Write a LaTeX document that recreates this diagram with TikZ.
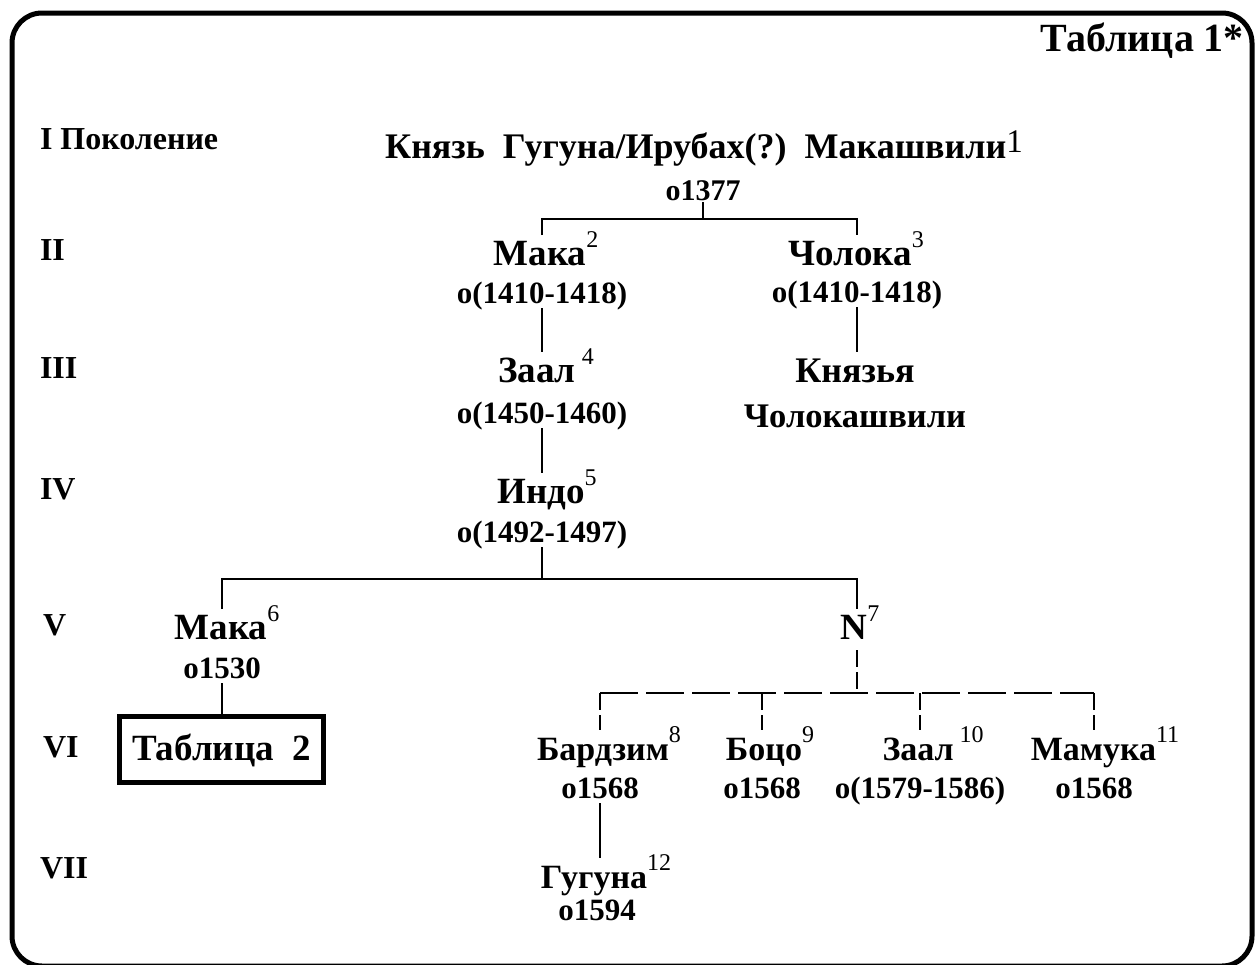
\documentclass[tikz,border=0pt]{standalone}
\usepackage{fontspec}
\setmainfont{Liberation Serif}
\newcommand\fsz[1]{\fontsize{#1}{#1}\selectfont}
\newcommand\sx[1]{\raisebox{18pt}{\mdseries\fsz{24}#1}}
\tikzset{
 gen/.style={anchor=base west, font=\bfseries\fsz{32}},
 pname/.style={anchor=base, font=\bfseries\fsz{37}, text height=30pt, text depth=0pt},
 vname/.style={anchor=base, font=\bfseries\fsz{34}, text height=30pt, text depth=0pt},
 pdate/.style={anchor=base, font=\bfseries\fsz{31}, text height=22pt, text depth=5pt},
 conn/.style={line width=2pt},
 dashh/.style={line width=2.2pt, dash pattern=on 38pt off 8pt},
 dashv/.style={line width=2.2pt, dash pattern=on 17pt off 5pt},
}
\begin{document}
\begin{tikzpicture}[x=1pt,y=-1pt, every node/.style={inner sep=0pt, outer sep=0pt}]
\useasboundingbox (0,0) rectangle (1255,964);
\clip (0,0) rectangle (1255,964);
\draw[line width=5pt, rounded corners=30pt] (12,13) rectangle (1252,966);

\node[anchor=base east, font=\bfseries\fsz{40}] (title) at (1244,51) {Таблица 1*};
\node[gen] (g1) at (40,149) {I Поколение};
\node[gen] (g2) at (40,260) {II};
\node[gen] (g3) at (40,378) {III};
\node[gen] (g4) at (40,499) {IV};
\node[gen] (g5) at (43,635) {V};
\node[gen] (g6) at (43,757) {VI};
\node[gen] (g7) at (40,878) {VII};

\node[anchor=base, font=\bfseries\fsz{36}] (root) at (704,158) {Князь~~Гугуна/Ирубах(?)~~Макашвили\raisebox{6pt}{\mdseries\fsz{33}1}};
\node[pdate, font=\bfseries\fsz{30}, text depth=2pt] (d1377) at (703,200) {o1377};

\node[pname] (maka2) at (546,265) {Мака\sx{2}};
\node[pdate] (d2a) at (542,303) {o(1410-1418)};
\node[pname] (chol3) at (856,265) {Чолока\sx{3}};
\node[pdate] (d2b) at (857,302) {o(1410-1418)};
\node[pname] (zaal4) at (546,382) {Заал\,\sx{4}};
\node[pdate] (d3) at (542,423) {o(1450-1460)};
\node[pname, font=\bfseries\fsz{36}] (kn) at (855,382) {Князья};
\node[anchor=base, font=\bfseries\fsz{34.5}] (chk) at (855,427) {Чолокашвили};
\node[pname] (indo5) at (547,503) {Индо\sx{5}};
\node[pdate] (d4) at (542,542) {o(1492-1497)};
\node[pname] (maka6) at (227,639) {Мака\sx{6}};
\node[pdate] (d5a) at (222,678) {o1530};
\node[pname] (n7) at (860,639) {N\sx{7}};
\node[draw, line width=5pt, minimum width=204pt, minimum height=66pt, font=\bfseries\fsz{37}, text height=25pt, text depth=4pt] (tab2) at (221.5,749.5) {Таблица~~2};

\node[vname] (bard8) at (609,760) {Бардзим\sx{8}};
\node[pdate] (d6a) at (600,798) {o1568};
\node[vname] (boco9) at (770,760) {Боцо\sx{9}};
\node[pdate] (d6b) at (762,798) {o1568};
\node[vname] (zaal10) at (933,760) {Заал\,\sx{10}};
\node[pdate] (d6c) at (920,798) {o(1579-1586)};
\node[vname] (mam11) at (1105,760) {Мамука\sx{11}};
\node[pdate] (d6d) at (1094,798) {o1568};
\node[vname] (gug12) at (606,888) {Гугуна\sx{12}};
\node[pdate] (d7) at (597,920) {o1594};

\draw[conn] (d1377.south) -- ++(0,17) coordinate (b1);
\draw[conn] (d2a |- maka2.north) -- (d2a |- b1) -- (d2b |- b1) -- (d2b |- chol3.north);
\draw[conn] (d2a.south) -- (d2a |- zaal4.north);
\draw[conn] (d2b.south) -- (d2b |- kn.north);
\draw[conn] (d3.south) -- (d3 |- indo5.north);
\draw[conn] (d4.south) -- ++(0,32) coordinate (b2);
\draw[conn] (d5a |- maka6.north) -- (d5a |- b2) -- (d2b |- b2) -- (d2b |- n7.north);
\draw[conn] (d5a.south) -- (d5a |- tab2.north);
\coordinate (b3) at (857,693);
\draw[dashv, shorten <=11pt] (d2b |- n7.south) -- (b3);
\draw[dashh] (d6a |- b3) -- (d6d |- b3);
\foreach \d/\n in {d6a/bard8, d6b/boco9, d6c/zaal10, d6d/mam11} \draw[dashv] (\d |- b3) -- (\d |- \n.north);
\draw[conn] (d6a.south) -- (d6a |- gug12.north);
\end{tikzpicture}
\end{document}
